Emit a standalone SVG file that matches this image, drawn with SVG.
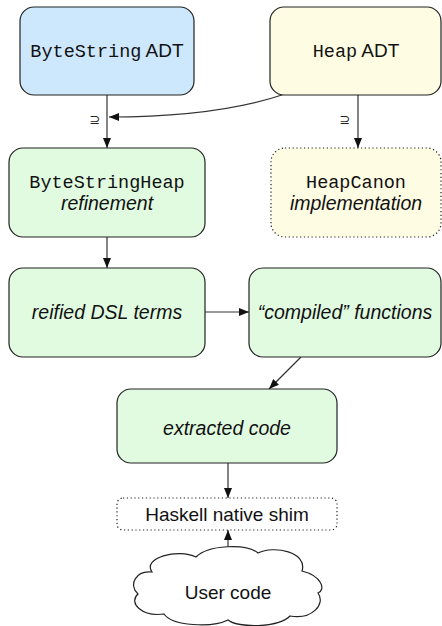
<svg xmlns="http://www.w3.org/2000/svg" width="442" height="626" viewBox="0 0 442 626">
<style>
.box{stroke:#222;stroke-width:1.2}
.dot{stroke:#222;stroke-width:1.2;stroke-dasharray:1.2 2.6}
.blue{fill:#cde8fd}
.yel{fill:#fefce3}
.grn{fill:#e1fbe1}
.mono{font-family:"Liberation Mono","DejaVu Sans Mono",monospace;font-size:18.5px;fill:#111}
.sans{font-family:"Liberation Sans",Arial,sans-serif;font-size:19px;fill:#111}
.it{font-family:"Liberation Sans",Arial,sans-serif;font-size:19.5px;font-style:italic;fill:#111}
.lbl{font-family:"DejaVu Sans",sans-serif;font-size:13px;fill:#222}
.edge{fill:none;stroke:#333;stroke-width:1.2}
</style>
<defs>
<marker id="ah" viewBox="0 0 10 8" refX="10" refY="4" markerWidth="10" markerHeight="8" markerUnits="userSpaceOnUse" orient="auto">
<path d="M0,0 L10,4 L0,8 Z" fill="#111"/>
</marker>
</defs>
<rect width="442" height="626" fill="#fff"/>
<g id="connectors">
<path class="edge" d="M107,95 V148" marker-end="url(#ah)"/>
<path class="edge" d="M285,94 C235,111 170,117 109,117" marker-end="url(#ah)"/>
<path class="edge" d="M358,95 V148" marker-end="url(#ah)"/>
<path class="edge" d="M107,237 V268" marker-end="url(#ah)"/>
<path class="edge" d="M205,312 H249" marker-end="url(#ah)"/>
<path class="edge" d="M301,357 L269,389" marker-end="url(#ah)"/>
<path class="edge" d="M228,463 V498" marker-end="url(#ah)"/>
<path class="edge" d="M228,553 V530" marker-end="url(#ah)"/>
<text class="lbl" x="95" y="124" text-anchor="middle">⊇</text>
<text class="lbl" x="345" y="124" text-anchor="middle">⊇</text>
</g>
<g id="bytestring-adt">
<rect class="box blue" x="20" y="7" width="174" height="88" rx="14"/>
<text x="107" y="57" text-anchor="middle"><tspan class="mono">ByteString</tspan><tspan class="sans"> ADT</tspan></text>
</g>
<g id="heap-adt">
<rect class="box yel" x="270" y="7" width="171" height="88" rx="14"/>
<text x="356" y="57" text-anchor="middle"><tspan class="mono">Heap</tspan><tspan class="sans"> ADT</tspan></text>
</g>
<g id="bytestringheap">
<rect class="box grn" x="9" y="148" width="196" height="89" rx="14"/>
<text class="mono" x="107" y="188" text-anchor="middle">ByteStringHeap</text>
<text class="it" x="107" y="210" text-anchor="middle">refinement</text>
</g>
<g id="heapcanon">
<rect class="dot yel" x="271" y="148" width="170" height="89" rx="14"/>
<text class="mono" x="356" y="188" text-anchor="middle">HeapCanon</text>
<text class="it" x="356" y="210" text-anchor="middle">implementation</text>
</g>
<g id="reified">
<rect class="box grn" x="9" y="268" width="196" height="89" rx="14"/>
<text class="it" x="107" y="319" text-anchor="middle">reified DSL terms</text>
</g>
<g id="compiled">
<rect class="box grn" x="249" y="268" width="192" height="89" rx="14"/>
<text class="it" x="345" y="319" text-anchor="middle">“compiled” functions</text>
</g>
<g id="extracted">
<rect class="box grn" x="117" y="389" width="220" height="74" rx="14"/>
<text class="it" x="227" y="435" text-anchor="middle">extracted code</text>
</g>
<g id="shim">
<rect class="dot" fill="#fff" x="117" y="498" width="220" height="32" rx="6"/>
<text class="sans" x="227" y="521" text-anchor="middle">Haskell native shim</text>
</g>
<g id="user-code">
<path class="box" fill="#fff" d="M152,572 C142,558 178,548 196,557 C208,545 246,543 258,553 C274,545 308,552 302,571 C322,576 326,590 318,593 C326,604 312,620 290,616 C278,628 238,628 228,620 C212,628 172,626 164,614 C142,617 128,603 138,594 C128,585 136,570 152,572 Z"/>
<text class="sans" x="228" y="599" text-anchor="middle">User code</text>
</g>
</svg>
